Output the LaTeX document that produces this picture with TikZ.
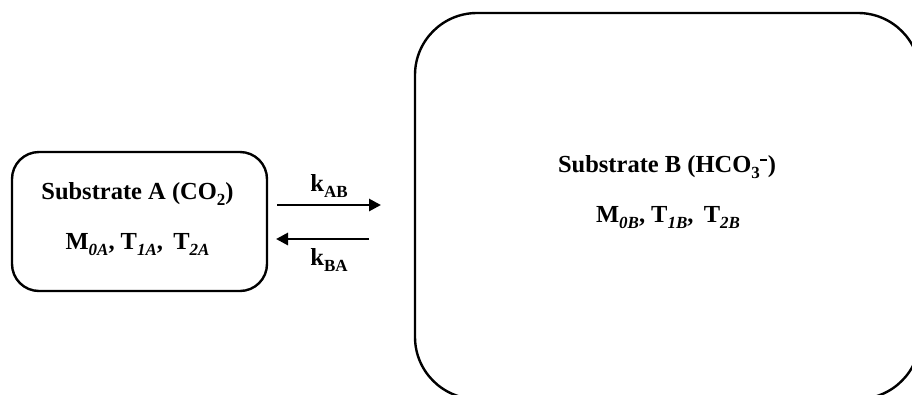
\documentclass[tikz,border=0pt]{standalone}
\usepackage{fontspec}
\setmainfont{Liberation Serif}
\usetikzlibrary{arrows.meta}
\newcommand{\subup}[1]{\raisebox{-0.25em}{\fontsize{17}{17}\selectfont #1}}
\newcommand{\sbi}[1]{\subup{\textit{#1}}}
\newcommand{\supminus}{\kern0.6pt\rule[10.8pt]{6.5pt}{2.6pt}\kern0.8pt}
\begin{document}
\begin{tikzpicture}[x=1pt,y=-1pt,
  box/.style={draw=black,line width=2.4pt,inner sep=0pt},
  lbl/.style={font=\fontsize{24.5}{28}\selectfont\bfseries,anchor=base,inner sep=0pt},
  rate/.style={line width=2.8pt,-{Triangle[length=12pt,width=12pt]}}]
\useasboundingbox (0,0) rectangle (912,394);
\begin{scope}
\clip (0,0) rectangle (912,394);
\node[box,rounded corners=27pt,minimum width=255pt,minimum height=139pt] (boxA) at (139.5,221.5) {};
\node[box,rounded corners=62pt,minimum width=505pt,minimum height=386pt] (boxB) at (667.5,206) {};
\end{scope}
\node[lbl] (tA1) at (137.5,199) {Substrate A (CO\subup{2})};
\node[lbl] (tA2) at (137.5,249) {M\sbi{0A}, T\sbi{1A},\, T\sbi{2A}};
\node[lbl] (tB1) at (667,172) {Substrate B (HCO\subup{3}\supminus)};
\node[lbl] (tB2) at (668,222) {M\sbi{0B}, T\sbi{1B},\, T\sbi{2B}};
\node[lbl] (kAB) at (329,191) {k\subup{AB}};
\node[lbl] (kBA) at (329,265) {k\subup{BA}};
\coordinate (f1) at (277,205);
\coordinate (f2) at (381,205);
\coordinate (r1) at (369,239);
\coordinate (r2) at (276,239);
\draw[rate] (f1) -- (f2);
\draw[rate] (r1) -- (r2);
\end{tikzpicture}
\end{document}
